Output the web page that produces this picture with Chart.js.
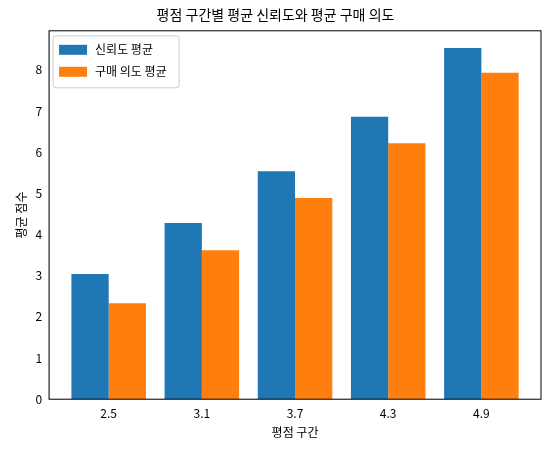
<!DOCTYPE html>
<html><head><meta charset="utf-8">
<script src="https://cdn.jsdelivr.net/npm/chart.js@4"></script>
<style>html,body{margin:0;background:#fff}#w{width:553px;height:454px}</style>
</head><body><div id="w"><canvas id="c"></canvas></div>
<script>
const categories = ['2.5','3.1','3.7','4.3','4.9'];
const trustAvg = [3.04, 4.28, 5.54, 6.86, 8.53];
const intentAvg = [2.33, 3.62, 4.89, 6.22, 7.93];
const seriesNames = ['신뢰도 평균','구매 의도 평균'];
const colors = ['#1f77b4','#ff7f0e'];
const F = "'Noto Sans CJK KR', 'DejaVu Sans', sans-serif";
Chart.defaults.font.family = F;
Chart.defaults.color = '#000';
const box = {id:'box', afterDraw(ch){const a=ch.chartArea,c=ch.ctx;c.save();c.strokeStyle='#000';c.lineWidth=1;c.strokeRect(a.left,a.top,a.right-a.left,a.bottom-a.top);
  const x0=a.left+4,y0=a.top+5,w=126,h=52;
  c.fillStyle='rgba(255,255,255,0.8)';c.strokeStyle='#ccc';c.beginPath();c.roundRect(x0,y0,w,h,3);c.fill();c.stroke();
  c.font='12px '+F;c.textBaseline='middle';
  seriesNames.forEach((n,i)=>{const yy=y0+14+i*22;c.fillStyle=colors[i];c.fillRect(x0+6,yy-5,28,10);c.fillStyle='#000';c.fillText(n,x0+42,yy);});
  c.restore();}};
const mk=(arr)=>arr.map((v,i)=>({x:i,y:v}));
new Chart(document.getElementById('c'), {
  type:'bar',
  data:{datasets:[
    {label:seriesNames[0], data:mk(trustAvg), backgroundColor:colors[0], categoryPercentage:0.8, barPercentage:1},
    {label:seriesNames[1], data:mk(intentAvg), backgroundColor:colors[1], categoryPercentage:0.8, barPercentage:1}
  ]},
  options:{responsive:true, maintainAspectRatio:false, animation:false,
    layout:{padding:{left:10,right:12,top:0,bottom:10}},
    plugins:{
      title:{display:true,text:'평점 구간별 평균 신뢰도와 평균 구매 의도',font:{size:14,weight:'normal'},padding:{top:6,bottom:8}},
      legend:{display:false},
      tooltip:{enabled:false}
    },
    scales:{
      x:{type:'linear',min:-0.64,max:4.64,offset:false,grid:{display:false,tickLength:4},
         afterBuildTicks(s){s.ticks=[0,1,2,3,4].map(v=>({value:v}));},
         ticks:{font:{size:12},callback:(v)=>categories[v]},
         title:{display:true,text:'평점 구간',font:{size:12},padding:{top:2}}},
      y:{min:0,max:8.95, grid:{display:false,tickLength:4},
         afterBuildTicks(s){s.ticks=[0,1,2,3,4,5,6,7,8].map(v=>({value:v}));},
         ticks:{font:{size:12}},
         title:{display:true,text:'평균 점수',font:{size:12}}}
    }
  },
  plugins:[box]
});
</script></body></html>
